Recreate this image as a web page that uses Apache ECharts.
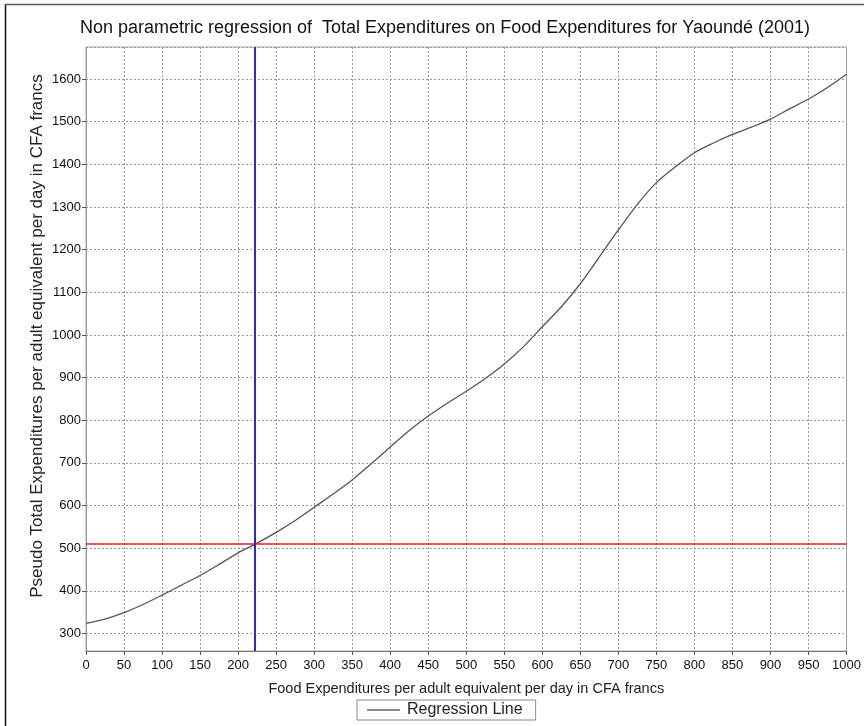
<!DOCTYPE html>
<html><head><meta charset="utf-8">
<script src="https://cdn.jsdelivr.net/npm/echarts@6/dist/echarts.min.js"></script>
<style>html,body{margin:0;padding:0;background:#fff}#c{width:864px;height:726px}</style>
</head><body><div id="c"></div>
<script>
// Data
const foodExp = [0, 25, 50, 75, 100, 125, 150, 175, 200, 222, 250, 275, 300, 325, 350, 375, 400, 425, 450, 475, 500, 525, 550, 575, 600, 625, 650, 675, 700, 725, 750, 775, 800, 825, 850, 875, 900, 925, 950, 975, 1000];
const totalExp = [324, 334, 349, 368, 390, 413, 436, 462, 489, 509, 537, 565, 596, 627, 660, 698, 737, 776, 810, 840, 868, 898, 932, 972, 1019, 1066, 1120, 1183, 1246, 1306, 1357, 1394, 1427, 1450, 1470, 1487, 1506, 1530, 1553, 1580, 1611];
const refFood = 222;
const refTotal = 510;
const xRange = [0, 1000];
const xStep = 50;
const yRange = [259, 1675];

const titleText = 'Non parametric regression of  Total Expenditures on Food Expenditures for Yaoundé (2001)';
const xName = 'Food Expenditures per adult equivalent per day in CFA francs';
const yName = 'Pseudo Total Expenditures per adult equivalent per day in CFA francs';
const seriesName = 'Regression Line';

const font = '"Liberation Sans", Arial, sans-serif';

const chart = echarts.init(document.getElementById('c'), null, {renderer: 'canvas'});
chart.setOption({
  animation: false,
  backgroundColor: '#fff',
  title: {
    text: titleText,
    left: 445, top: 19, padding: 0, textAlign: 'center',
    textStyle: {fontFamily: font, fontSize: 18, fontWeight: 'normal', color: '#111'}
  },
  graphic: [
    {type: 'line', shape: {x1: 5.5, y1: 4, x2: 5.5, y2: 726}, style: {stroke: '#111', lineWidth: 1.5}, silent: true},
    {type: 'line', shape: {x1: 5, y1: 4.5, x2: 864, y2: 4.5}, style: {stroke: '#555', lineWidth: 1.5}, silent: true},
    {type: 'text', x: 37, y: 336, rotation: Math.PI / 2,
     style: {text: yName, fontFamily: font, fontSize: 17, fill: '#222', textAlign: 'center', textVerticalAlign: 'middle'}, silent: true}
  ],
  grid: {left: 86, right: 17, top: 47, bottom: 75, show: true, borderColor: '#a8a8a8', borderWidth: 1, containLabel: false},
  legend: {
    data: [{name: seriesName, icon: 'rect'}],
    left: 357, top: 700, itemWidth: 33, itemHeight: 1, itemGap: 4,
    padding: [2, 13, 2, 10], borderColor: '#888', borderWidth: 1,
    textStyle: {fontFamily: font, fontSize: 16, color: '#222', padding: [0, 0, 0, 2]}
  },
  xAxis: {
    type: 'value', min: xRange[0], max: xRange[1], interval: xStep,
    name: xName, nameLocation: 'middle', nameGap: 30,
    nameTextStyle: {fontFamily: font, fontSize: 14.5, color: '#222'},
    axisLine: {show: true, lineStyle: {color: '#777', width: 1}},
    axisTick: {show: true, inside: false, length: 4, lineStyle: {color: '#555'}},
    axisLabel: {fontFamily: font, fontSize: 13, color: '#111', margin: 8, formatter: v => String(v)},
    splitLine: {show: true, lineStyle: {color: '#999', type: [2, 2], width: 1}}
  },
  yAxis: {
    type: 'value', min: yRange[0], max: yRange[1], splitNumber: 14,
    axisLine: {show: true, lineStyle: {color: '#999', width: 1}},
    axisTick: {show: true, inside: false, length: 4, lineStyle: {color: '#555'}},
    axisLabel: {fontFamily: font, fontSize: 13, color: '#111', margin: 5, showMinLabel: false, showMaxLabel: false, formatter: v => String(v)},
    splitLine: {show: true, lineStyle: {color: '#999', type: [2, 2], width: 1}}
  },
  series: [{
    name: seriesName, type: 'line', showSymbol: false, smooth: 0.3,
    data: foodExp.map((x, i) => [x, totalExp[i]]),
    lineStyle: {color: '#555', width: 1.3},
    itemStyle: {color: '#111'},
    z: 3,
    markLine: {
      silent: true, symbol: 'none', animation: false,
      label: {show: false},
      data: [
        {yAxis: refTotal, lineStyle: {color: '#dd2222', width: 1.5, type: 'solid'}},
        {xAxis: refFood, lineStyle: {color: '#2b2bd0', width: 2, type: 'solid'}}
      ]
    }
  }]
});
</script>
</body></html>
